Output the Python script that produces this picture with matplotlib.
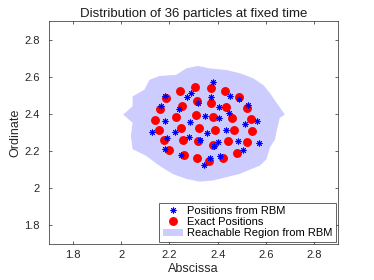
import numpy as np
import matplotlib
matplotlib.use('Agg')
import matplotlib.pyplot as plt
from matplotlib.patches import Polygon

plt.rcParams['font.family'] = ['Liberation Sans', 'DejaVu Sans']

# positions from RBM (blue stars)
rbm_x = [2.380, 2.182, 2.290, 2.272, 2.374, 2.451, 2.489, 2.163, 2.238, 2.317,
         2.405, 2.526, 2.449, 2.182, 2.286, 2.347, 2.405, 2.563, 2.515, 2.128,
         2.221, 2.355, 2.433, 2.189, 2.283, 2.328, 2.403, 2.485, 2.572, 2.385,
         2.182, 2.247, 2.368, 2.408, 2.505, 2.343]
rbm_y = [2.571, 2.498, 2.515, 2.491, 2.491, 2.494, 2.478, 2.441, 2.428, 2.457,
         2.439, 2.446, 2.407, 2.363, 2.355, 2.387, 2.380, 2.363, 2.343, 2.304,
         2.302, 2.295, 2.311, 2.268, 2.277, 2.258, 2.249, 2.254, 2.245, 2.229,
         2.210, 2.181, 2.162, 2.174, 2.208, 2.123]

# exact positions (red dots)
exact_x = [2.305, 2.242, 2.371, 2.430, 2.489, 2.186, 2.313, 2.374, 2.251, 2.436,
           2.521, 2.160, 2.311, 2.380, 2.226, 2.458, 2.140, 2.540, 2.321, 2.247,
           2.390, 2.468, 2.158, 2.543, 2.255, 2.320, 2.176, 2.442, 2.521, 2.379,
           2.199, 2.260, 2.313, 2.482, 2.422, 2.365]
exact_y = [2.544, 2.521, 2.540, 2.521, 2.491, 2.483, 2.469, 2.459, 2.444, 2.439,
           2.430, 2.425, 2.393, 2.384, 2.382, 2.377, 2.368, 2.373, 2.325, 2.323,
           2.315, 2.315, 2.315, 2.307, 2.259, 2.252, 2.261, 2.254, 2.247, 2.231,
           2.203, 2.179, 2.165, 2.188, 2.165, 2.146]

# reachable region outline
region_x = [2.008, 2.047, 2.047, 2.096, 2.117, 2.158, 2.228, 2.270, 2.318, 2.367,
            2.436, 2.492, 2.547, 2.589, 2.617, 2.645, 2.679, 2.658, 2.645, 2.638,
            2.617, 2.603, 2.575, 2.540, 2.492, 2.436, 2.380, 2.325, 2.270, 2.214,
            2.158, 2.103, 2.047, 2.040, 2.047]
region_y = [2.396, 2.441, 2.494, 2.530, 2.583, 2.604, 2.610, 2.645, 2.658, 2.645,
            2.636, 2.619, 2.592, 2.556, 2.512, 2.459, 2.396, 2.379, 2.307, 2.263,
            2.219, 2.156, 2.121, 2.103, 2.077, 2.059, 2.041, 2.035, 2.050, 2.076,
            2.121, 2.174, 2.210, 2.281, 2.352]

ticks = [1.8, 2.0, 2.2, 2.4, 2.6, 2.8]
tick_labels = ['1.8', '2', '2.2', '2.4', '2.6', '2.8']

fig = plt.figure(figsize=(3.74, 2.8), dpi=100)
ax = fig.add_axes([0.131, 0.129, 0.773, 0.796])

reg = Polygon(np.column_stack([region_x, region_y]), closed=True,
              facecolor=(0.8, 0.8, 1.0), edgecolor='none',
              label='Reachable Region from RBM', zorder=1)
ax.add_patch(reg)
h_rbm, = ax.plot(rbm_x, rbm_y, ls='none', marker=(8, 2, 0), ms=4.2, mew=0.7,
                 color='blue', label='Positions from RBM', zorder=3)
h_ex, = ax.plot(exact_x, exact_y, ls='none', marker='o', ms=5.4,
                color='red', mec='red', label='Exact Positions', zorder=2)

ax.set_xlim(1.7, 2.9)
ax.set_ylim(1.7, 2.9)
ax.set_xticks(ticks)
ax.set_xticklabels(tick_labels)
ax.set_yticks(ticks)
ax.set_yticklabels(tick_labels)
ax.tick_params(direction='in', top=True, right=True, length=2.5, width=0.5,
               labelsize=8, colors='0.15')
ax.tick_params(axis='x', pad=4.5)
ax.tick_params(axis='y', pad=6.5)
for s in ax.spines.values():
    s.set_linewidth(0.5)
    s.set_color('0.15')

ax.set_title('Distribution of 36 particles at fixed time', fontsize=9.5, pad=3, color='0.1')
ax.set_xlabel('Abscissa', fontsize=9, labelpad=2, color='0.15')
ax.set_ylabel('Ordinate', fontsize=9, labelpad=2, color='0.15')

leg = ax.legend(handles=[h_rbm, h_ex, reg], loc='lower right', fontsize=8,
                fancybox=False, edgecolor='0.15', framealpha=1,
                borderaxespad=0.2, handlelength=1.8, handletextpad=0.4,
                labelspacing=0.1, borderpad=0.3)
leg.get_frame().set_linewidth(0.5)

fig.savefig('out.png', dpi=100)
